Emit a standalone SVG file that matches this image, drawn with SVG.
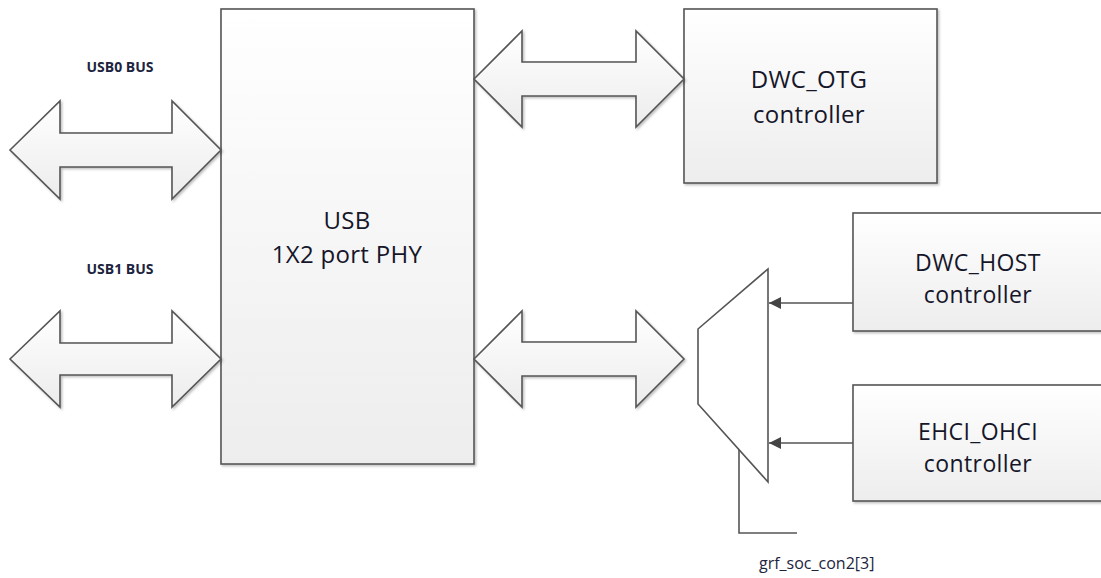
<svg xmlns="http://www.w3.org/2000/svg" width="1101" height="578" viewBox="0 0 1101 578">
  <defs>
    <linearGradient id="boxFill" x1="0" y1="0" x2="0" y2="1">
      <stop offset="0" stop-color="#ffffff"/>
      <stop offset="1" stop-color="#ededed"/>
    </linearGradient>
    <linearGradient id="busFill" x1="0" y1="0" x2="0" y2="1">
      <stop offset="0" stop-color="#ffffff"/>
      <stop offset="1" stop-color="#ececec"/>
    </linearGradient>
    <filter id="shadow" x="-5%" y="-5%" width="110%" height="110%">
      <feDropShadow dx="1.5" dy="1.5" stdDeviation="1" flood-color="#000" flood-opacity="0.25"/>
    </filter>
    <marker id="head" viewBox="0 0 10 10" refX="10" refY="5" markerWidth="12" markerHeight="12" markerUnits="userSpaceOnUse" orient="auto">
      <path d="M0,0 L10,5 L0,10 Z" fill="#444"/>
    </marker>
    <style>
      .box { fill: url(#boxFill); stroke: #555; stroke-width: 1.6; filter: url(#shadow); }
      .bus { fill: url(#busFill); stroke: #555; stroke-width: 1.6; stroke-linejoin: miter; filter: url(#shadow); }
      .lbl { font-family: "Open Sans", "Liberation Sans", sans-serif; font-size: 24px; letter-spacing: 0.3px; fill: #16162a; text-anchor: middle; }
      .lbl2 { font-family: "Open Sans", "Liberation Sans", sans-serif; font-size: 23px; letter-spacing: 0.4px; fill: #16162a; text-anchor: middle; }
      .small { font-family: "Open Sans", "Liberation Sans", sans-serif; font-size: 14px; font-weight: bold; fill: #1d2440; text-anchor: middle; }
      .sel { font-family: "Open Sans", "Liberation Sans", sans-serif; font-size: 16px; fill: #1d2440; }
      .wire { fill: none; stroke: #555; stroke-width: 1.6; }
    </style>
  </defs>

  <rect width="1101" height="578" fill="#ffffff"/>

  <!-- PHY block -->
  <g id="phy">
    <rect class="box" x="221" y="9" width="253" height="455"/>
    <text class="lbl" x="347" y="229">USB</text>
    <text class="lbl" x="347" y="263">1X2 port PHY</text>
  </g>

  <!-- OTG controller -->
  <g id="dwc_otg">
    <rect class="box" x="684" y="9" width="253" height="174"/>
    <text class="lbl" x="809" y="88">DWC_OTG</text>
    <text class="lbl" x="809" y="123">controller</text>
  </g>

  <!-- Host controllers -->
  <g id="dwc_host">
    <rect class="box" x="853" y="213" width="260" height="118"/>
    <text class="lbl2" x="978" y="271">DWC_HOST</text>
    <text class="lbl2" x="978" y="303">controller</text>
  </g>

  <g id="ehci_ohci">
    <rect class="box" x="853" y="385" width="260" height="116"/>
    <text class="lbl2" x="978" y="440">EHCI_OHCI</text>
    <text class="lbl2" x="978" y="472">controller</text>
  </g>

  <!-- Port multiplexer -->
  <g id="mux">
    <path d="M698,329 L768,269 L768,482 L698,404 Z" fill="#ffffff" stroke="#555" stroke-width="1.6"/>
  </g>

  <!-- Bus labels -->
  <g id="usb0_label">
    <text class="small" x="120" y="72">USB0 BUS</text>
  </g>
  <g id="usb1_label">
    <text class="small" x="120" y="274">USB1 BUS</text>
  </g>
  <g id="sel_label">
    <text class="sel" x="759" y="569">grf_soc_con2[3]</text>
  </g>

  <!-- Connectors -->
  <g id="connectors">
    <!-- USB0 bus -->
    <path class="bus" d="M10,150 L60,101 L60,133 L172,133 L172,101 L221,150 L172,199 L172,167 L60,167 L60,199 Z"/>
    <!-- USB1 bus -->
    <path class="bus" d="M10,359 L60,311 L60,343 L172,343 L172,311 L221,359 L172,407 L172,375 L60,375 L60,407 Z"/>
    <!-- PHY to OTG -->
    <path class="bus" d="M474,79 L522,31 L522,62 L636,62 L636,31 L684,79 L636,127 L636,96 L522,96 L522,127 Z"/>
    <!-- PHY to host mux -->
    <path class="bus" d="M474,359 L522,311 L522,342 L636,342 L636,311 L684,359 L636,407 L636,376 L522,376 L522,407 Z"/>
    <!-- Host controllers into mux -->
    <line class="wire" x1="853" y1="303" x2="769" y2="303" marker-end="url(#head)"/>
    <line class="wire" x1="853" y1="443" x2="769" y2="443" marker-end="url(#head)"/>
    <!-- Mux select -->
    <path class="wire" d="M739,450 L739,533 L797,533"/>
  </g>
</svg>
